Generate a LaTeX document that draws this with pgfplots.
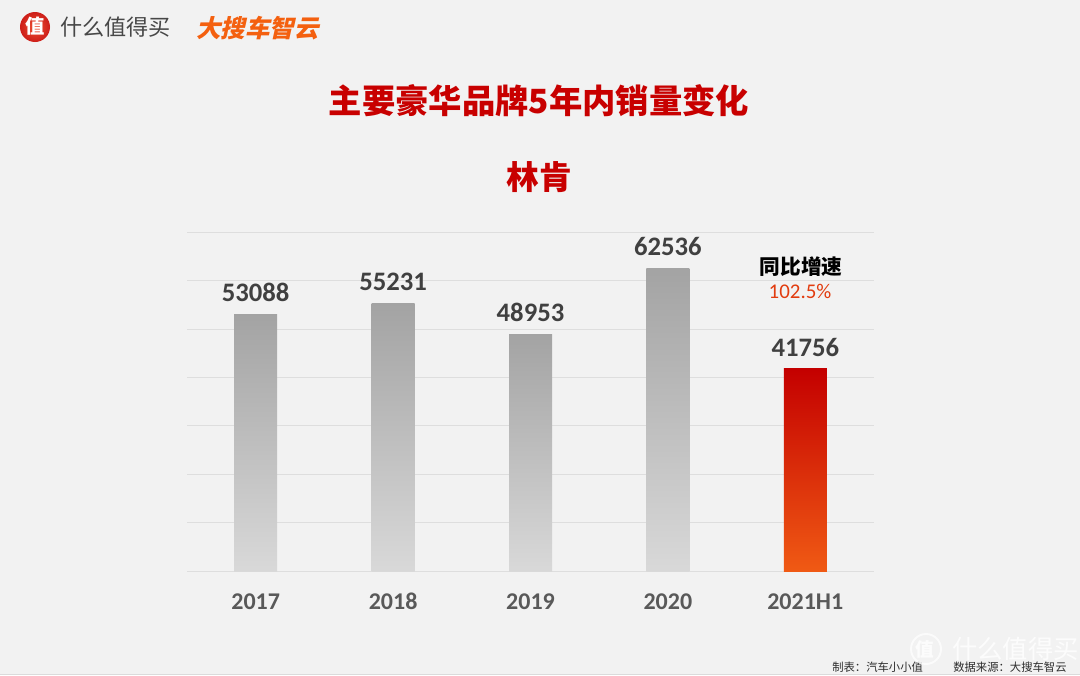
\documentclass[border=0pt]{standalone}
\usepackage{fontspec}
\usepackage{pgfplots}
\pgfplotsset{compat=1.18}
\setmainfont{Carlito}
\newfontfamily\cjk{Noto Sans CJK SC}
\newfontfamily\cjkslant[FakeSlant=0.22]{Noto Sans CJK SC}
\definecolor{bg}{HTML}{F2F2F2}
\definecolor{gridc}{HTML}{DEDEDE}
\definecolor{titlered}{HTML}{C80000}
\definecolor{logoorange}{HTML}{F4600F}
\pgfplotsset{
  greybar/.style={ybar, bar width=32.25pt, bar shift=0pt, draw=none, shade,
    top color=black!36, bottom color=black!15},
}
\begin{document}
\begin{tikzpicture}[x=0.75pt,y=-0.75pt]
\useasboundingbox (0,0) rectangle (1080,675);
\fill[bg] (0,0) rectangle (1080,675);
\fill[black!14] (0,673.5) rectangle (1080,675);

% header logos
\shade[inner color={rgb,255:red,238;green,80;blue,50},outer color={rgb,255:red,205;green,30;blue,25}] (35,27) circle (15);
\node[white,font={\cjk\bfseries\fontsize{14.5pt}{16pt}\selectfont}] at (35,26.5) {值};
\node[anchor=west,inner sep=0pt,text=black!72,font={\cjk\fontsize{16.6pt}{18pt}\selectfont}] at (60,27) {什么值得买};
\node[anchor=west,inner sep=0pt,text=logoorange,font={\cjkslant\bfseries\fontsize{18.4pt}{20pt}\selectfont}] at (196,28) {大搜车智云};

% titles
\node[text=titlered,font={\cjk\bfseries\fontsize{25pt}{28pt}\selectfont}] at (539,101) {主要豪华品牌5年内销量变化};
\node[text=titlered,font={\cjk\bfseries\fontsize{24.5pt}{28pt}\selectfont}] at (539,177) {林肯};

\begin{axis}[
  at={(140.25pt,-428.6pt)}, anchor=south west,
  scale only axis,
  width=515.25pt, height=254.6pt,
  xmin=-0.5, xmax=4.5,
  ymin=0, ymax=70000,
  xtick={0,1,2,3,4},
  xticklabels={2017,2018,2019,2020,2021H1},
  ytick={0,10000,...,70000},
  yticklabels={},
  scaled y ticks=false,
  ymajorgrids,
  grid style={gridc,line width=0.75pt},
  axis line style={draw=none},
  major tick length=0pt,
  clip=false,
  xticklabel style={font=\fontsize{18pt}{20pt}\selectfont\bfseries, text=black!65,
    text height=12pt, text depth=0pt, yshift=-13pt},
  nodes near coords,
  point meta=y,
  nodes near coords style={font=\fontsize{20pt}{22pt}\selectfont\bfseries, text=black!75,
    text height=13pt, text depth=0pt,
    /pgf/number format/fixed, /pgf/number format/1000 sep={},
    /pgf/number format/assume math mode=true, yshift=6pt},
]
\addplot[greybar] coordinates {(0,53088)};
\addplot[greybar] coordinates {(1,55231)};
\addplot[greybar] coordinates {(2,48953)};
\addplot[greybar] coordinates {(3,62536)};
\addplot[ybar, bar width=32.25pt, bar shift=0pt, draw=none, shade,
  top color={rgb,255:red,196;green,0;blue,0},
  middle color={rgb,255:red,225;green,58;blue,5},
  bottom color={rgb,255:red,240;green,90;blue,20}] coordinates {(4,41756)};
\end{axis}

% growth note
\node[text=black,font={\cjk\bfseries\fontsize{15.5pt}{18pt}\selectfont}] at (801,267) {同比增速};
\node[text={rgb,255:red,226;green,60;blue,15},font=\fontsize{15.7pt}{18pt}\selectfont] at (800,291) {102.5\%};

% footer
\node[anchor=west,inner sep=0pt,text=black!82,font={\cjk\fontsize{8.5pt}{10pt}\selectfont}] at (832,667) {制表：汽车小小值};
\node[anchor=west,inner sep=0pt,text=black!82,font={\cjk\fontsize{8.5pt}{10pt}\selectfont}] at (953,667) {数据来源：大搜车智云};

% watermark
\draw[white,opacity=0.75,line width=1.4pt] (926,649) circle (15);
\node[white,opacity=0.8,font={\cjk\bfseries\fontsize{14pt}{16pt}\selectfont}] at (925,649) {值};
\node[anchor=west,inner sep=0pt,white,opacity=0.8,font={\cjk\fontsize{19pt}{21pt}\selectfont}] at (952,649) {什么值得买};
\end{tikzpicture}
\end{document}
